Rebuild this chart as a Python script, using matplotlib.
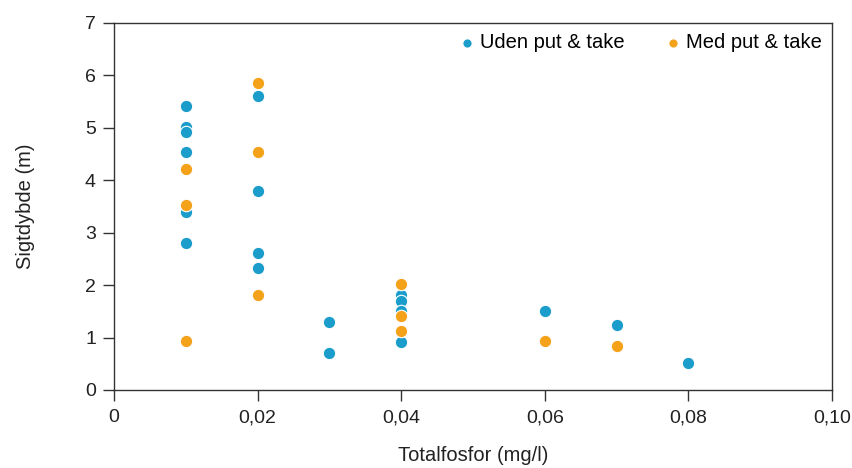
import numpy as np
import matplotlib
matplotlib.use("Agg")
import matplotlib.pyplot as plt
from matplotlib.ticker import FuncFormatter

plt.rcParams['font.family'] = ['Liberation Sans', 'DejaVu Sans']

# Uden put & take
uden_x = [0.01, 0.01, 0.01, 0.01, 0.01, 0.01,
          0.02, 0.02, 0.02, 0.02,
          0.03, 0.03,
          0.04, 0.04, 0.04, 0.04,
          0.06, 0.07, 0.08]
uden_y = [5.42, 5.02, 4.92, 4.53, 3.39, 2.80,
          5.60, 3.80, 2.61, 2.32,
          1.30, 0.70,
          1.82, 1.70, 1.51, 0.92,
          1.51, 1.23, 0.52]

# Med put & take
med_x = [0.01, 0.01, 0.01,
         0.02, 0.02, 0.02,
         0.04, 0.04, 0.04,
         0.06, 0.07]
med_y = [4.21, 3.52, 0.94,
         5.85, 4.53, 1.81,
         2.02, 1.42, 1.13,
         0.94, 0.83]

blue = '#1b9dcb'
orange = '#f5a21b'

fig = plt.figure(figsize=(8.53, 4.68), dpi=100)
ax = fig.add_axes([0.1336, 0.1667, 0.8418, 0.7842])

ax.scatter(uden_x, uden_y, s=80, color=blue, edgecolor='white', linewidth=0.8,
           label='Uden put & take', zorder=3)
ax.scatter(med_x, med_y, s=80, color=orange, edgecolor='white', linewidth=0.8,
           label='Med put & take', zorder=4)

ax.set_xlim(0, 0.10)
ax.set_ylim(0, 7)
ax.set_xticks(np.arange(0, 0.101, 0.02))
ax.set_yticks(range(0, 8))
ax.xaxis.set_major_formatter(FuncFormatter(
    lambda v, p: '0' if abs(v) < 1e-9 else ('%.2f' % v).replace('.', ',')))
ax.tick_params(direction='out', length=8, width=1, labelsize=14, color='#333333',
               labelcolor='#222222')
ax.tick_params(axis='x', pad=6)
ax.tick_params(axis='y', pad=5)
for s in ax.spines.values():
    s.set_color('#333333')
    s.set_linewidth(1)

ax.set_xlabel('Totalfosfor (mg/l)', fontsize=14.5, labelpad=14, color='#222222')
ax.set_ylabel('Sigtdybde (m)', fontsize=14.5, labelpad=36, color='#222222')

ax.legend(loc='upper right', ncol=2, frameon=False, fontsize=14.5, handlelength=0.8,
          handletextpad=0.25, columnspacing=2.0, markerscale=0.75, borderaxespad=0.1,
          bbox_to_anchor=(1.0, 1.0))

fig.savefig('out.png', dpi=100)
